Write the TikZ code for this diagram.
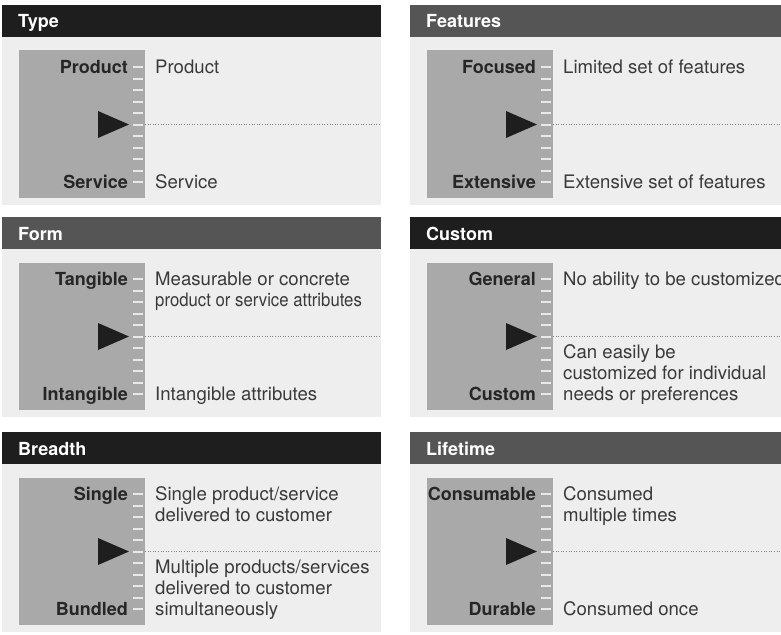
\documentclass[tikz,border=0pt]{standalone}
\usepackage{graphicx}
\usepackage{fontspec}
\setmainfont{TeX Gyre Heros}
\definecolor{hblack}{HTML}{1E1E1E}
\definecolor{hgray}{HTML}{555555}
\definecolor{bodybg}{HTML}{EEEEEE}
\definecolor{boxgray}{HTML}{A9A9A9}
\definecolor{tickc}{HTML}{E8E8E8}
\definecolor{lblc}{HTML}{262626}
\definecolor{descc}{HTML}{3A3A3A}
\tikzset{
  hdrtext/.style={text=white, font=\fontsize{18}{21}\selectfont\bfseries, inner sep=0pt},
  lbl/.style={text=lblc, font=\fontsize{18}{21}\selectfont\bfseries, inner sep=0pt},
  desc/.style={text=descc, font=\fontsize{18.6}{21}\selectfont, inner sep=0pt, align=left},
  tickmark/.style={draw=tickc, line width=2pt},
  dotline/.style={draw=black!50, line width=1pt, dash pattern=on 1pt off 1.6pt},
}
\def\panelR{381}
\newcommand\mypanel[7]{%
  \begin{scope}[shift={(#2,#3)}]
    \fill[#4] (2,0) rectangle (\panelR,32);
    \node[hdrtext, anchor=base west] (#1title) at (18,23) {#5};
    \fill[bodybg] (2,32) rectangle (\panelR,200);
    \fill[boxgray] (19,45.5) rectangle (145,193);
    \foreach \k in {0,...,10} {\draw[tickmark] (133,{62+11.5*\k}) -- (143,{62+11.5*\k});}
    \fill[hblack] (98,106) -- (98,133) -- (129,119.5) -- cycle;
    \coordinate (#1mid) at (145,119.5);
    \coordinate (#1end) at (\panelR,119.5);
    \draw[dotline] (#1mid) -- (#1end);
    \node[lbl, anchor=base east] (#1toplbl) at (128,68.5) {#6};
    \node[lbl, anchor=base east] (#1botlbl) at (128,183.5) {#7};
    \coordinate (#1top) at (155,68.5);
    \coordinate (#1bot) at (155,183.5);
  \end{scope}}
\begin{document}
\begin{tikzpicture}[x=1pt,y=-1pt]
\useasboundingbox (0,0) rectangle (781,634);
\clip (0,0) rectangle (781,634);
\fill[white] (0,0) rectangle (781,634);
% left column
\def\panelR{381}
\mypanel{type}{0}{5}{hblack}{Type}{Product}{Service}
\mypanel{form}{0}{217}{hgray}{Form}{Tangible}{Intangible}
\mypanel{breadth}{0}{432}{hblack}{Breadth}{Single}{Bundled}
% right column
\def\panelR{400}
\mypanel{feat}{408}{5}{hgray}{Features}{Focused}{Extensive}
\mypanel{cust}{408}{217}{hblack}{Custom}{General}{Custom}
\mypanel{life}{408}{432}{hgray}{Lifetime}{Consumable}{Durable}
% descriptions (multi-line nodes: base = last line)
\node[desc, anchor=base west] (typed1) at (typetop) {Product};
\node[desc, anchor=base west] (typed2) at (typebot) {Service};
\node[desc, anchor=base west] (formd1) at ([yshift=-21pt]formtop) {Measurable or concrete\\\scalebox{0.9}[1]{product or service attributes}};
\node[desc, anchor=base west] (formd2) at (formbot) {Intangible attributes};
\node[desc, anchor=base west] (breadthd1) at ([yshift=-21pt]breadthtop) {Single product/service\\delivered to customer};
\node[desc, anchor=base west] (breadthd2) at (breadthbot) {Multiple products/services\\delivered to customer\\simultaneously};
\node[desc, anchor=base west] (featd1) at (feattop) {Limited set of features};
\node[desc, anchor=base west] (featd2) at (featbot) {Extensive set of features};
\node[desc, anchor=base west] (custd1) at (custtop) {No ability to be customized};
\node[desc, anchor=base west] (custd2) at (custbot) {Can easily be\\customized for individual\\needs or preferences};
\node[desc, anchor=base west] (lifed1) at ([yshift=-21pt]lifetop) {Consumed\\multiple times};
\node[desc, anchor=base west] (lifed2) at (lifebot) {Consumed once};
\end{tikzpicture}
\end{document}
